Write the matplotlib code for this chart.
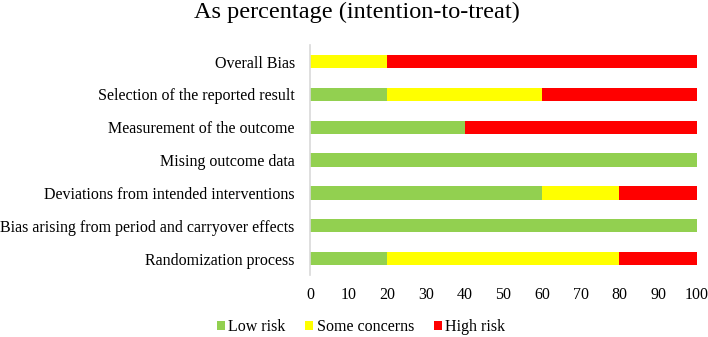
import numpy as np
import matplotlib.pyplot as plt

plt.rcParams["font.family"] = ["Liberation Serif", "DejaVu Serif"]

# bottom to top
categories = [
    "Randomization process",
    "Bias arising from period and carryover effects",
    "Deviations from intended interventions",
    "Mising outcome data",
    "Measurement of the outcome",
    "Selection of the reported result",
    "Overall Bias",
]
low_risk = [20, 100, 60, 100, 40, 20, 0]
some_concerns = [60, 0, 20, 0, 0, 40, 20]
high_risk = [20, 0, 20, 0, 60, 40, 80]

series = [
    ("Low risk", low_risk, "#92D050"),
    ("Some concerns", some_concerns, "#FFFF00"),
    ("High risk", high_risk, "#FF0000"),
]

fig = plt.figure(figsize=(7.08, 3.37), dpi=100)
ax = fig.add_axes([0.438, 0.184, 0.546, 0.682])

y = np.arange(len(categories))
left = np.zeros(len(categories))
for name, vals, color in series:
    vals = np.array(vals, dtype=float)
    ax.barh(y, vals, left=left, height=0.405, color=color, label=name)
    left += vals

ax.set_xlim(0, 100)
ax.set_ylim(-0.5, len(categories) - 0.5)
ax.set_xticks(np.arange(0, 101, 10))
ax.set_yticks(y)
ax.set_yticklabels(categories)
ax.tick_params(axis="both", length=0, labelsize=11.5)
ax.tick_params(axis="x", pad=9)
ax.tick_params(axis="y", pad=11)
for s in ["top", "right", "bottom"]:
    ax.spines[s].set_visible(False)
ax.spines["left"].set_color("#d9d9d9")
ax.spines["left"].set_linewidth(1.2)

fig.text(0.504, 0.962, "As percentage (intention-to-treat)", ha="center", va="center",
         fontsize=17.5)

fig.legend(loc="center", bbox_to_anchor=(0.51, 0.03), ncol=3, frameon=False,
           fontsize=11.5, handlelength=0.5, handleheight=0.5, handletextpad=0.2,
           columnspacing=1.25, borderpad=0)

fig.savefig("out.png", dpi=100)
